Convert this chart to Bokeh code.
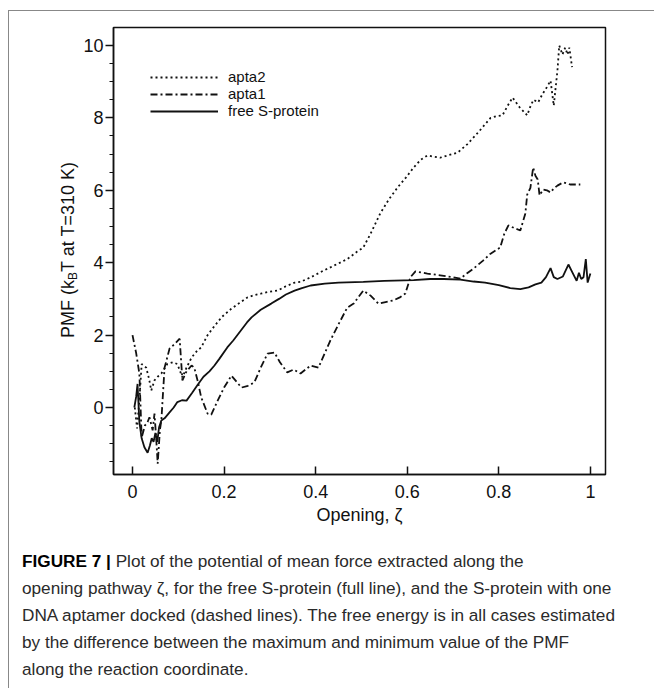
from bokeh.plotting import figure
from bokeh.models import Range1d, FixedTicker, Legend, LegendItem, Div
from bokeh.layouts import column, row
from bokeh.embed import file_html
from bokeh.resources import INLINE

# ---------------- data ----------------
free_z = [0.004, 0.008, 0.011, 0.015, 0.02, 0.026, 0.033, 0.038, 0.042, 0.046, 0.05, 0.054, 0.058,
          0.063, 0.07, 0.08, 0.09, 0.098, 0.108, 0.118, 0.13, 0.142, 0.155, 0.168, 0.179, 0.19,
          0.207, 0.22, 0.235, 0.25, 0.26, 0.28, 0.303, 0.32, 0.335, 0.354, 0.37, 0.389, 0.42,
          0.45, 0.504, 0.55, 0.614, 0.65, 0.68, 0.716, 0.745, 0.77, 0.8, 0.825, 0.847, 0.865,
          0.88, 0.893, 0.903, 0.913, 0.92, 0.928, 0.94, 0.952, 0.962, 0.97, 0.975, 0.98, 0.985,
          0.99, 0.994, 1.0]
free_pmf = [0.0, 0.3, 0.65, -0.4, -0.85, -1.1, -1.25, -1.05, -0.85, -0.95, -0.7, -0.95, -0.55,
            -0.36, -0.3, -0.15, 0.0, 0.15, 0.2, 0.19, 0.4, 0.62, 0.85, 1.0, 1.16, 1.35,
            1.66, 1.85, 2.1, 2.35, 2.49, 2.7, 2.87, 3.0, 3.12, 3.23, 3.3, 3.37, 3.42,
            3.45, 3.47, 3.5, 3.52, 3.55, 3.55, 3.53, 3.48, 3.45, 3.38, 3.3, 3.27, 3.32,
            3.4, 3.45, 3.6, 3.85, 3.6, 3.55, 3.62, 3.95, 3.7, 3.5, 3.72, 3.55, 3.6,
            4.1, 3.45, 3.7]

apta1_z = [0.0, 0.008, 0.015, 0.02, 0.027, 0.033, 0.037, 0.044, 0.048, 0.052, 0.055, 0.06, 0.063,
           0.07, 0.081, 0.092, 0.103, 0.109, 0.118, 0.129, 0.135, 0.143, 0.15, 0.164, 0.172,
           0.186, 0.2, 0.216, 0.228, 0.238, 0.252, 0.266, 0.28, 0.295, 0.31, 0.322, 0.338,
           0.352, 0.367, 0.378, 0.389, 0.406, 0.42, 0.432, 0.45, 0.469, 0.483, 0.504, 0.52,
           0.537, 0.555, 0.57, 0.585, 0.596, 0.607, 0.618, 0.644, 0.672, 0.7, 0.716, 0.73,
           0.745, 0.765, 0.782, 0.803, 0.812, 0.821, 0.835, 0.847, 0.858, 0.862, 0.869, 0.875,
           0.88, 0.885, 0.889, 0.897, 0.905, 0.913, 0.92, 0.928, 0.941, 0.956, 0.978]
apta1_pmf = [2.0, 1.5, 0.94, -0.83, -0.5, -0.4, -0.27, -0.63, -0.17, -0.9, -1.55, -0.6, -0.36,
             1.1, 1.63, 1.75, 1.9, 0.75, 1.0, 1.16, 1.1, 0.7, 0.28, -0.17, -0.2,
             0.19, 0.55, 0.88, 0.7, 0.55, 0.6, 0.69, 1.1, 1.49, 1.52, 1.25, 0.97,
             1.05, 0.94, 1.05, 1.16, 1.1, 1.5, 1.85, 2.3, 2.76, 2.87, 3.23, 3.09,
             2.87, 2.92, 2.96, 3.05, 3.15, 3.6, 3.76, 3.7, 3.65, 3.6, 3.56, 3.7,
             3.84, 4.05, 4.25, 4.42, 4.8, 5.03, 4.95, 4.89, 5.36, 5.88, 6.07, 6.63,
             6.4, 6.3, 5.86, 6.02, 6.0, 5.94, 6.05, 6.13, 6.22, 6.16, 6.16]

apta2_z = [0.005, 0.01, 0.015, 0.02, 0.03, 0.036, 0.041, 0.048, 0.055, 0.063, 0.076, 0.088, 0.098,
           0.109, 0.118, 0.129, 0.14, 0.15, 0.164, 0.179, 0.195, 0.216, 0.235, 0.251, 0.265,
           0.282, 0.3, 0.317, 0.335, 0.354, 0.367, 0.39, 0.417, 0.445, 0.469, 0.49, 0.504,
           0.52, 0.541, 0.56, 0.579, 0.597, 0.614, 0.63, 0.644, 0.658, 0.672, 0.69, 0.71,
           0.731, 0.755, 0.782, 0.795, 0.808, 0.82, 0.83, 0.845, 0.862, 0.87, 0.876, 0.886,
           0.895, 0.905, 0.913, 0.92, 0.928, 0.932, 0.939, 0.945, 0.95, 0.954, 0.96]
apta2_pmf = [0.0, -0.58, 0.2, 1.2, 1.1, 0.8, 0.47, 0.75, 0.85, 0.94, 1.2, 1.25, 1.2,
             0.83, 1.1, 1.38, 1.55, 1.66, 2.0, 2.25, 2.5, 2.73, 2.9, 3.04, 3.1,
             3.15, 3.2, 3.23, 3.35, 3.45, 3.47, 3.6, 3.78, 3.95, 4.1, 4.3, 4.42,
             4.8, 5.36, 5.75, 6.08, 6.35, 6.63, 6.85, 6.96, 6.93, 6.9, 6.97, 7.04,
             7.27, 7.6, 8.0, 8.05, 8.07, 8.35, 8.56, 8.3, 8.07, 8.35, 8.5, 8.43,
             8.65, 8.85, 9.03, 8.34, 9.3, 10.0, 9.75, 9.94, 9.75, 9.94, 9.4]

series_names = ["apta2", "apta1", "free S-protein"]
x_tick_values = [0, 0.2, 0.4, 0.6, 0.8, 1]
x_tick_labels = ["0", "0.2", "0.4", "0.6", "0.8", "1"]
y_tick_values = [0, 2, 4, 6, 8, 10]
y_minor_values = [-1.5, -1, -0.5, 0.5, 1, 1.5, 2.5, 3, 3.5, 4.5, 5, 5.5, 6.5, 7, 7.5, 8.5, 9, 9.5, 10.5]

FONT = "Liberation Sans"
INK = "#111111"

p = figure(width=575, height=537,
           x_range=Range1d(-0.0415, 1.033), y_range=Range1d(-1.851, 10.497),
           output_backend="svg", toolbar_location=None,
           min_border_left=34, min_border_right=49, min_border_top=16, min_border_bottom=74,
           margin=0)
p.grid.visible = False
p.background_fill_color = "white"
p.border_fill_color = "white"
p.outline_line_color = INK
p.outline_line_width = 1.5
p.outline_line_alpha = 1.0

r2 = p.line(apta2_z, apta2_pmf, line_color=INK, line_width=1.8, line_dash="2 3")
r1 = p.line(apta1_z, apta1_pmf, line_color=INK, line_width=1.8, line_dash="7 3 2 3")
r0 = p.line(free_z, free_pmf, line_color=INK, line_width=1.8)

# axes
xa = p.xaxis[0]
xa.ticker = FixedTicker(ticks=x_tick_values, minor_ticks=[])
xa.major_label_overrides = {v: s for v, s in zip(x_tick_values, x_tick_labels)}
xa.major_tick_in = 8
xa.major_tick_out = 0
xa.minor_tick_in = 0
xa.minor_tick_out = 0
xa.major_label_standoff = 10
xa.axis_label = "Opening, ζ"
xa.axis_label_standoff = 4

ya = p.yaxis[0]
ya.ticker = FixedTicker(ticks=y_tick_values, minor_ticks=y_minor_values)
ya.major_tick_in = 0
ya.major_tick_out = 8
ya.minor_tick_in = 0
ya.minor_tick_out = 4
ya.major_label_standoff = 2

for ax in (xa, ya):
    ax.axis_line_color = INK
    ax.axis_line_width = 1.5
    ax.major_tick_line_color = INK
    ax.major_tick_line_width = 1.5
    ax.minor_tick_line_color = INK
    ax.minor_tick_line_width = 1.2
    ax.major_label_text_font = FONT
    ax.major_label_text_font_size = "18px"
    ax.major_label_text_color = INK
    ax.axis_label_text_font = FONT
    ax.axis_label_text_font_size = "18px"
    ax.axis_label_text_font_style = "normal"
    ax.axis_label_text_color = INK

legend = Legend(items=[LegendItem(label=series_names[0], renderers=[r2]),
                       LegendItem(label=series_names[1], renderers=[r1]),
                       LegendItem(label=series_names[2], renderers=[r0])],
                location=(37, 355), border_line_alpha=0, background_fill_alpha=0,
                glyph_width=68, glyph_height=16, label_height=16, label_standoff=10,
                spacing=0, padding=0, margin=0,
                label_text_font=FONT, label_text_font_size="15px", label_text_color=INK)
p.add_layout(legend)

# y-axis title (with subscript B) as a rotated HTML block to the left of the plot
ytitle = Div(text=('<div style="position:relative;width:70px;height:537px;">'
                   '<div style="position:absolute;left:59px;top:239px;'
                   'transform:translate(-50%,-50%) rotate(-90deg);white-space:nowrap;'
                   'font-family:\'Liberation Sans\';font-size:18px;line-height:20px;color:#111;">'
                   'PMF (k<span style="font-size:12px;line-height:0;vertical-align:-3px;">B</span>'
                   'T at T=310 K)</div></div>'),
             width=70, height=537, margin=0)

caption_lines = [
    "<b style=\"color:#000\">FIGURE 7 |</b> Plot of the potential of mean force extracted along the",
    "opening pathway ζ, for the free S-protein (full line), and the S-protein with one",
    "DNA aptamer docked (dashed lines). The free energy is in all cases estimated",
    "by the difference between the maximum and minimum value of the PMF",
    "along the reaction coordinate.",
]
cap = Div(text=('<div style="font-family:\'Liberation Sans\';font-size:17.2px;line-height:27px;'
                'color:#2a2a2a;white-space:nowrap;padding-left:13px;">'
                + "<br>".join(caption_lines) + "</div>"),
          width=645, height=140, margin=0)

layout = column(row(ytitle, p, margin=0, spacing=0), cap, spacing=0,
                styles={"border-left": "1px solid #888", "border-top": "1px solid #888",
                        "margin-top": "10px", "margin-left": "8px"})

open("out.html", "w").write(file_html(layout, INLINE))
